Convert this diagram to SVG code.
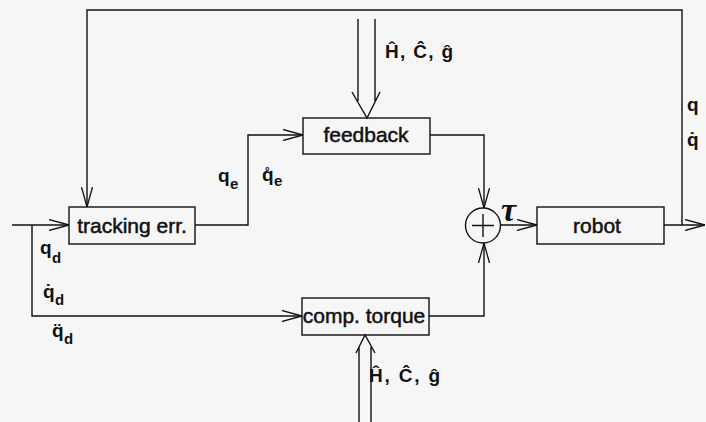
<svg xmlns="http://www.w3.org/2000/svg" width="706" height="422" viewBox="0 0 706 422">
<style>
.bg{fill:#f6f6f6}
.box{fill:none;stroke:#111;stroke-width:1.4}
.ln{fill:none;stroke:#111;stroke-width:1.4}
.bt{font-family:"Liberation Sans",Arial,sans-serif;font-size:21px;fill:#111;stroke:#111;stroke-width:0.5;text-anchor:middle}
.lbl{font-family:"Liberation Sans",Arial,sans-serif;font-size:19px;font-weight:bold;fill:#111}
.sub{font-family:"Liberation Sans",Arial,sans-serif;font-size:15px;font-weight:bold;fill:#111}
.par{font-family:"Liberation Sans",Arial,sans-serif;font-size:19px;font-weight:bold;fill:#111}
.tau{font-family:"Liberation Serif","Times New Roman",serif;font-size:34px;font-style:italic;font-weight:bold;fill:#111}
</style>
<defs>
<marker id="ah" viewBox="0 0 20 12" refX="20" refY="6" markerWidth="20" markerHeight="12" markerUnits="userSpaceOnUse" orient="auto">
<path d="M0,0.5 L20,6 L0,11.5" fill="none" stroke="#111" stroke-width="1.3"/>
</marker>
</defs>
<rect class="bg" x="0" y="0" width="706" height="422"/>

<g id="connectors">
<path class="ln" d="M12,225 H69" marker-end="url(#ah)"/>
<path class="ln" d="M32,225 V316 H302" marker-end="url(#ah)"/>
<path class="ln" d="M195,225 H248 V135 H303" marker-end="url(#ah)"/>
<path class="ln" d="M430,135 H484 V208" marker-end="url(#ah)"/>
<path class="ln" d="M429,316 H484 V243" marker-end="url(#ah)"/>
<path class="ln" d="M501,225 H537" marker-end="url(#ah)"/>
<path class="ln" d="M664,225 H705" marker-end="url(#ah)"/>
<path class="ln" d="M682,225 V10 H87 V207" marker-end="url(#ah)"/>
<path class="ln" d="M358,19 V101 M375,19 V101 M352,92 L367,118 L380,92"/>
<path class="ln" d="M359,422 V347 M371,422 V347 M356,353 L365,335 L375,353"/>
</g>

<g id="tracking">
<rect class="box" x="69" y="207" width="126" height="37"/>
<text class="bt" x="132" y="233">tracking err.</text>
</g>
<g id="feedback">
<rect class="box" x="303" y="118" width="127" height="36"/>
<text class="bt" x="366" y="142">feedback</text>
</g>
<g id="comptorque">
<rect class="box" x="302" y="298" width="127" height="37"/>
<text class="bt" x="364" y="323">comp. torque</text>
</g>
<g id="sum">
<circle class="box" cx="483" cy="225.5" r="17.5"/>
<path class="ln" d="M472,225.5 H494 M483,214 V237"/>
</g>
<g id="robot">
<rect class="box" x="537" y="207" width="127" height="37"/>
<text class="bt" x="597" y="233">robot</text>
</g>

<g id="labels">
<text class="par" x="385" y="58" textLength="68" lengthAdjust="spacing">Ĥ, Ĉ, ĝ</text>
<text class="par" x="369" y="382" textLength="71" lengthAdjust="spacing">Ĥ, Ĉ, ĝ</text>
<text class="tau" x="501" y="221">τ</text>
<text class="lbl" x="218" y="182">q</text><text class="sub" x="230" y="189">e</text>
<text class="lbl" x="262" y="181">q&#x30A;</text><text class="sub" x="274" y="186">e</text>
<text class="lbl" x="40" y="254">q</text><text class="sub" x="52" y="263">d</text>
<text class="lbl" x="43" y="298">q&#x307;</text><text class="sub" x="55" y="305">d</text>
<text class="lbl" x="52" y="337">q&#x308;</text><text class="sub" x="64" y="344">d</text>
<text class="lbl" x="687" y="111">q</text>
<text class="lbl" x="687" y="146">q&#x307;</text>
</g>
</svg>
